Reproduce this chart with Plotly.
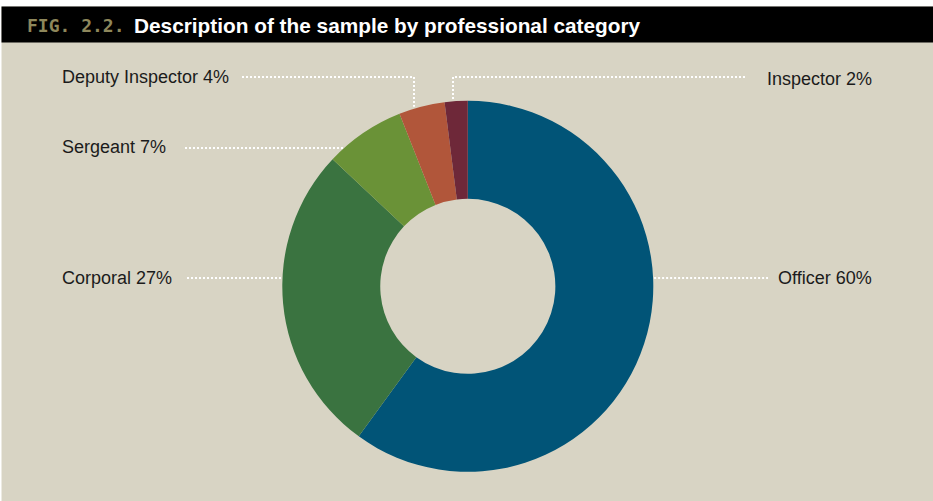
import math
import plotly.graph_objects as go

# Sample composition by professional category (share of respondents, %)
categories = ["Officer", "Corporal", "Sergeant", "Deputy Inspector", "Inspector"]
shares = [60, 27, 7, 4, 2]
colors = ["#015477", "#3a7340", "#6a9237", "#b1563a", "#6e2839"]

W, H = 933, 501
BG = "#d8d4c4"

# Donut geometry in pixels
CX, CY, R = 467.8, 286.3, 185.5
HOLE = 0.472

fig = go.Figure()

fig.add_trace(go.Pie(
    labels=categories,
    values=shares,
    sort=False,
    direction="clockwise",
    rotation=0,
    hole=HOLE,
    marker=dict(colors=colors, line=dict(width=0)),
    textinfo="none",
    hoverinfo="label+percent",
    showlegend=False,
    domain=dict(x=[(CX - R) / W, (CX + R) / W], y=[(H - CY - R) / H, (H - CY + R) / H]),
))


def edge_x(y, side):
    """x on the outer rim at pixel row y (side -1 = left, +1 = right)."""
    return CX + side * math.sqrt(R ** 2 - (y - CY) ** 2)


def edge_y_top(x):
    """y on the upper outer rim at pixel column x."""
    return CY - math.sqrt(R ** 2 - (x - CX) ** 2)


# Leader lines: (label, text anchor x, text y, polyline in pixels)
leaders = [
    ("Deputy Inspector", 60, 77, "left",
     [(242, 77), (414, 77), (414, edge_y_top(414) - 2)]),
    ("Sergeant", 60, 147, "left",
     [(185, 148), (edge_x(148, -1) - 1, 148)]),
    ("Corporal", 60, 278, "left",
     [(187, 278), (edge_x(278, -1) - 1, 278)]),
    ("Officer", 874, 278, "right",
     [(edge_x(278, 1) + 1, 278), (768, 278)]),
    ("Inspector", 874, 79, "right",
     [(745, 77), (453, 77), (453, edge_y_top(453) - 2)]),
]

share_of = dict(zip(categories, shares))

for name, tx, ty, align, pts in leaders:
    fig.add_trace(go.Scatter(
        x=[p[0] for p in pts], y=[p[1] for p in pts],
        mode="lines",
        line=dict(color="white", width=2, dash="2px,2px"),
        hoverinfo="skip", showlegend=False,
    ))
    fig.add_annotation(
        x=tx, y=ty, xref="x", yref="y",
        text=f"{name} {share_of[name]}%",
        showarrow=False,
        xanchor=align, yanchor="middle",
        font=dict(family="Liberation Sans, Arial, sans-serif", size=18, color="#1b1b1b"),
    )

# Header bar
fig.add_shape(type="rect", xref="x", yref="y", x0=0, x1=W, y0=0, y1=6.5,
              fillcolor="white", line=dict(width=0), layer="above")
fig.add_shape(type="rect", xref="x", yref="y", x0=0, x1=1.5, y0=0, y1=H,
              fillcolor="white", line=dict(width=0), layer="above")
fig.add_shape(type="rect", xref="x", yref="y", x0=1.5, x1=W, y0=6.5, y1=42.5,
              fillcolor="#000000", line=dict(width=0), layer="above")

fig.add_annotation(
    x=25, y=25, xref="x", yref="y", text="<b>FIG. 2.2.</b>", showarrow=False,
    xanchor="left", yanchor="middle",
    font=dict(family="DejaVu Sans Mono, monospace", size=18, color="#8e875b"),
)
fig.add_annotation(
    x=132, y=25, xref="x", yref="y",
    text="<b>Description of the sample by professional category</b>", showarrow=False,
    xanchor="left", yanchor="middle",
    font=dict(family="Liberation Sans, Arial, sans-serif", size=20.8, color="white"),
)

fig.update_layout(
    width=W, height=H,
    margin=dict(l=0, r=0, t=0, b=0),
    paper_bgcolor=BG, plot_bgcolor="rgba(0,0,0,0)",
    xaxis=dict(range=[0, W], visible=False, fixedrange=True, domain=[0, 1]),
    yaxis=dict(range=[H, 0], visible=False, fixedrange=True, domain=[0, 1]),
)

fig.write_html("out.html")
